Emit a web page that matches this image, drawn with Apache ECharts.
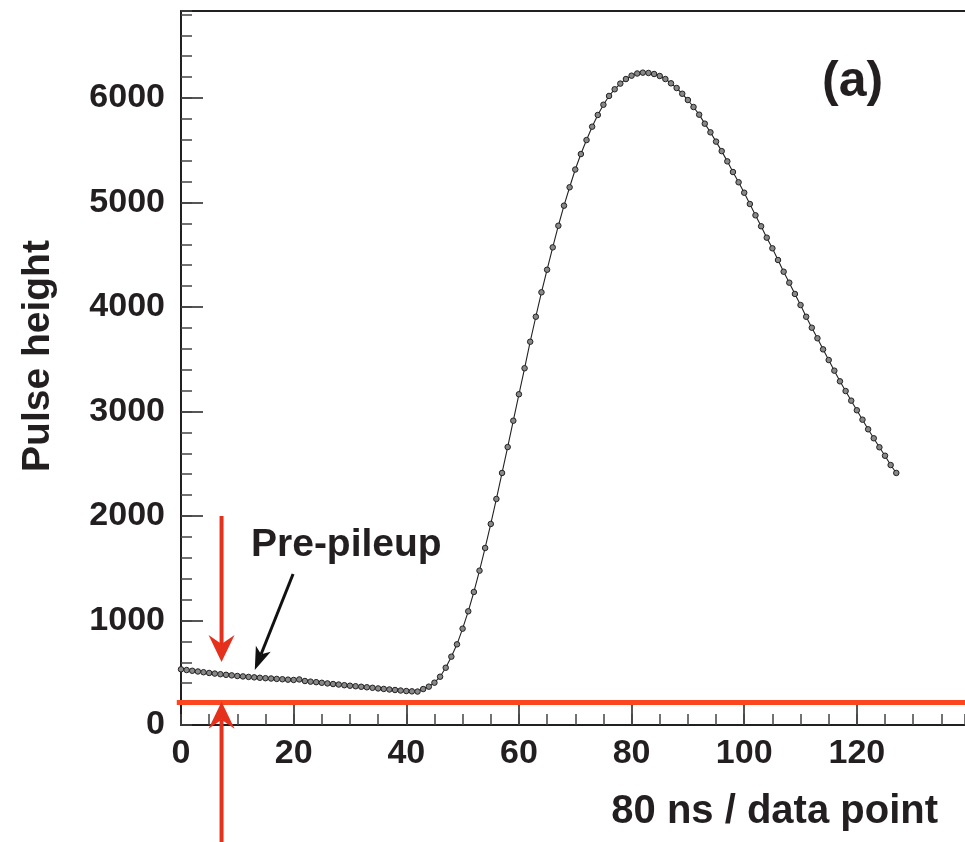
<!DOCTYPE html>
<html>
<head>
<meta charset="utf-8">
<title>Pulse height</title>
<script src="https://cdn.jsdelivr.net/npm/echarts@6/dist/echarts.min.js"></script>
<style>
  html, body { margin: 0; padding: 0; background: #fff; }
  #chart { width: 965px; height: 842px; }
</style>
</head>
<body>
<div id="chart"></div>
<script>
// pulse height per data point (80 ns each)
var pulseHeight = [
  533, 526, 519, 512, 505, 498, 492, 486, 480, 475,
  469, 465, 460, 456, 452, 448, 445, 441, 438, 434,
  431, 436, 421, 415, 410, 404, 398, 392, 387, 381,
  376, 371, 366, 361, 356, 350, 345, 340, 335, 330,
  325, 322, 320, 344, 367, 405, 462, 548, 654, 772,
  922, 1088, 1273, 1477, 1694, 1924, 2163, 2412, 2660, 2912,
  3165, 3414, 3668, 3907, 4141, 4357, 4571, 4778, 4970, 5146,
  5316, 5464, 5598, 5726, 5838, 5936, 6020, 6084, 6138, 6182,
  6214, 6235, 6243, 6240, 6230, 6211, 6182, 6141, 6096, 6041,
  5981, 5914, 5841, 5755, 5672, 5583, 5492, 5394, 5292, 5194,
  5094, 4986, 4878, 4773, 4664, 4562, 4450, 4338, 4233, 4125,
  4019, 3907, 3802, 3701, 3595, 3493, 3391, 3289, 3196, 3104,
  3012, 2922, 2830, 2744, 2658, 2577, 2488, 2412
];

var xMax = 139.2;
var yMax = 6833;

// annotation positions in data units
var baselineLevel = 215;          // red horizontal line
var arrowX = 7.2;                 // both red arrows
var downArrow = [2000, 603];      // top, tip
var upArrow = [-1150, 222];       // bottom, tip
var pileupArrow = [[19.9, 1445], [13.1, 526]]; // tail, tip

var font = '"Liberation Sans", Arial, Helvetica, sans-serif';
var ink = '#231f20';

var seriesData = [];
for (var i = 0; i < pulseHeight.length; i++) {
  seriesData.push([i, pulseHeight[i]]);
}

var chart = echarts.init(document.getElementById('chart'));

function majorAxis(max, interval, tickLen, extra) {
  return Object.assign({
    type: 'value',
    min: 0,
    max: max,
    interval: interval,
    axisLine: { show: true, onZero: false, lineStyle: { color: ink, width: 2 } },
    axisTick: { show: true, inside: true, length: tickLen, lineStyle: { color: ink, width: 1.5 } },
    splitLine: { show: false }
  }, extra);
}

function minorAxis(max, interval, extra) {
  return Object.assign({
    type: 'value',
    min: 0,
    max: max,
    interval: interval,
    axisLine: { show: false, onZero: false },
    axisTick: { show: true, inside: true, length: 11, lineStyle: { color: '#444', width: 1.5 } },
    axisLabel: { show: false },
    splitLine: { show: false }
  }, extra);
}

function tickLabel(margin) {
  return {
    show: true, showMaxLabel: false, margin: margin,
    color: ink, fontFamily: font, fontWeight: 'bold', fontSize: 34,
    formatter: function (v) { return String(v); }
  };
}

chart.setOption({
  animation: false,
  backgroundColor: '#fff',
  grid: { left: 181, top: 11, right: -5, bottom: 117, show: false },
  xAxis: [
    majorAxis(xMax, 20, 20, { position: 'bottom', axisLabel: tickLabel(12) }),
    minorAxis(xMax, 5, { position: 'bottom' }),
    // top frame line
    { type: 'value', position: 'top', min: 0, max: xMax,
      axisLine: { show: true, onZero: false, lineStyle: { color: ink, width: 2 } },
      axisTick: { show: false }, axisLabel: { show: false }, splitLine: { show: false } }
  ],
  yAxis: [
    majorAxis(yMax, 1000, 22, { position: 'left', axisLabel: tickLabel(16) }),
    minorAxis(yMax, 200, { position: 'left' })
  ],
  series: [{
    type: 'line',
    xAxisIndex: 0,
    yAxisIndex: 0,
    data: seriesData,
    symbol: 'circle',
    symbolSize: 5.5,
    lineStyle: { color: '#222', width: 1.1 },
    itemStyle: { color: '#888', borderColor: '#222', borderWidth: 1 },
    z: 3
  }]
});

function px(x, y) {
  return chart.convertToPixel({ xAxisIndex: 0, yAxisIndex: 0 }, [x, y]);
}

// arrow head polygon: tip, length along direction, half width, notch
function arrowHead(tail, tip, len, half, notch) {
  var dx = tip[0] - tail[0], dy = tip[1] - tail[1];
  var d = Math.sqrt(dx * dx + dy * dy);
  var ux = dx / d, uy = dy / d;
  var nx = -uy, ny = ux;
  var bx = tip[0] - ux * len, by = tip[1] - uy * len;
  var mx = tip[0] - ux * (len - notch), my = tip[1] - uy * (len - notch);
  return {
    points: [tip, [bx + nx * half, by + ny * half], [mx, my], [bx - nx * half, by - ny * half]],
    join: [mx, my]
  };
}

var red = '#e5301b';
var orange = '#fb4620';

var hl0 = px(-0.75, baselineLevel), hl1 = px(xMax, baselineLevel);
var dTop = px(arrowX, downArrow[0]), dTip = px(arrowX, downArrow[1]);
var uBot = px(arrowX, upArrow[0]), uTip = px(arrowX, upArrow[1]);
var bTail = px(pileupArrow[0][0], pileupArrow[0][1]), bTip = px(pileupArrow[1][0], pileupArrow[1][1]);

var dHead = arrowHead(dTop, dTip, 27, 13, 9);
var uHead = arrowHead(uBot, uTip, 27, 13, 9);
var bHead = arrowHead(bTail, bTip, 23, 8, 6);

chart.setOption({
  graphic: [
    { type: 'line', z: 10, shape: { x1: hl0[0], y1: hl0[1], x2: hl1[0] + 10, y2: hl1[1] },
      style: { stroke: orange, lineWidth: 5 } },
    { type: 'line', z: 11, shape: { x1: dTop[0], y1: dTop[1], x2: dHead.join[0], y2: dHead.join[1] },
      style: { stroke: red, lineWidth: 4 } },
    { type: 'polygon', z: 11, shape: { points: dHead.points }, style: { fill: red } },
    { type: 'line', z: 11, shape: { x1: uBot[0], y1: uBot[1], x2: uHead.join[0], y2: uHead.join[1] },
      style: { stroke: red, lineWidth: 4 } },
    { type: 'polygon', z: 11, shape: { points: uHead.points }, style: { fill: red } },
    { type: 'line', z: 11, shape: { x1: bTail[0], y1: bTail[1], x2: bHead.join[0], y2: bHead.join[1] },
      style: { stroke: '#111', lineWidth: 3 } },
    { type: 'polygon', z: 11, shape: { points: bHead.points }, style: { fill: '#111' } },
    { type: 'text', z: 12, style: {
      text: 'Pre-pileup', x: 251, y: 545, textVerticalAlign: 'middle',
      fill: ink, font: 'bold 39px ' + font } },
    { type: 'text', z: 12, style: {
      text: '(a)', x: 822, y: 82, textVerticalAlign: 'middle',
      fill: ink, font: 'bold 50px ' + font } },
    { type: 'text', z: 12, style: {
      text: '80 ns / data point', x: 938, y: 812, textAlign: 'right', textVerticalAlign: 'middle',
      fill: ink, font: 'bold 40px ' + font } },
    { type: 'text', z: 12, x: 38, y: 356, rotation: Math.PI / 2, style: {
      text: 'Pulse height', x: 0, y: 0, textAlign: 'center', textVerticalAlign: 'middle',
      fill: ink, font: 'bold 39px ' + font } }
  ]
});
</script>
</body>
</html>
